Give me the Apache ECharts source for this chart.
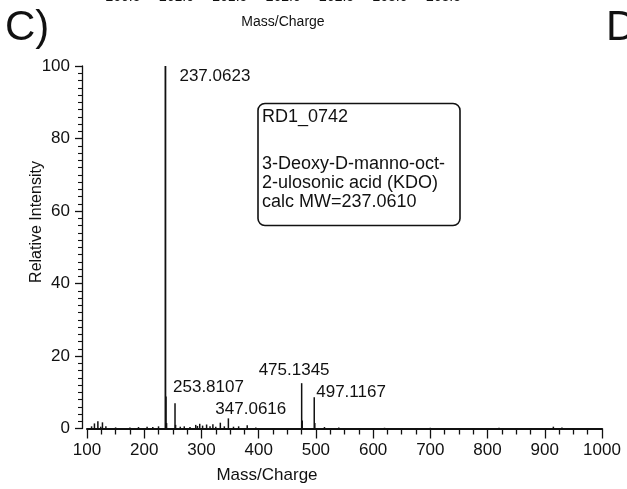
<!DOCTYPE html>
<html>
<head>
<meta charset="utf-8">
<script src="https://cdn.jsdelivr.net/npm/echarts@6/dist/echarts.min.js"></script>
<style>
  html, body { margin: 0; padding: 0; background: #fff; }
  #chart { width: 627px; height: 489px; }
</style>
</head>
<body>
<div id="chart"></div>
<script>
// Mass spectrum of KDO (RD1_0742): centroid peaks, m/z vs relative intensity
const peakMz = [
  108, 113, 119, 124, 127, 133, 150, 175, 190, 205, 215, 225,
  237.0623, 238.065, 239.07, 253.8107, 254.81,
  263, 270, 280, 290, 293, 297, 302, 309, 315, 320, 325, 333, 340,
  347.0616, 356, 365, 380, 395,
  475.1345, 476.137, 497.1167, 498.12,
  515, 540, 620, 700, 820, 915, 930
];
const peakIntensity = [
  0.6, 1.4, 2.0, 0.5, 1.7, 0.6, 0.3, 0.3, 0.4, 0.5, 0.4, 0.6,
  100, 8.8, 1.5, 7.0, 1.0,
  0.5, 0.6, 0.4, 1.0, 0.7, 1.3, 0.8, 1.1, 0.6, 1.2, 0.5, 1.6, 0.6,
  2.8, 0.5, 0.6, 0.9, 0.3,
  12.5, 2.2, 8.6, 1.5,
  0.4, 0.3, 0.2, 0.2, 0.2, 0.5, 0.3
];
// peaks that carry an m/z annotation
const labelledMz = [237.0623, 253.8107, 347.0616, 475.1345, 497.1167];

const xTickValues = [100, 200, 300, 400, 500, 600, 700, 800, 900, 1000];
const yTickValues = [0, 20, 40, 60, 80, 100];

// header of the panel above (clipped at the top edge)
const upperTickLabels = ['260.5', '261.0', '261.5', '262.0', '262.5', '263.0', '263.5'];

const boxTitle = 'RD1_0742';
const boxLines = ['3-Deoxy-D-manno-oct-', '2-ulosonic acid (KDO)', 'calc MW=237.0610'];

// label placement relative to the top of each annotated peak [dx, dy, align]
const labelPlacement = {
  '237.0623': [14, 10, 'left'],
  '253.8107': [-2, -16, 'left'],
  '347.0616': [-13, -9, 'left'],
  '475.1345': [-43, -13, 'left'],
  '497.1167': [2, -5, 'left']
};

const FONT = '"Liberation Sans", Arial, Helvetica, sans-serif';
const INK = '#111';

const chart = echarts.init(document.getElementById('chart'), null, { renderer: 'canvas' });

const data = peakMz.map((m, i) => [m, peakIntensity[i]]);

const upperGraphics = upperTickLabels.map((t, i) => ({
  type: 'text',
  x: 123 + i * 53.4,
  y: -3,
  style: { text: t, font: '14px ' + FONT, fill: INK, align: 'center', verticalAlign: 'middle' }
}));

chart.setOption({
  animation: false,
  backgroundColor: '#fff',
  grid: { left: 87, right: 25, top: 66, bottom: 60.5, containLabel: false },
  xAxis: {
    type: 'value',
    min: 100,
    max: 1000,
    interval: 100,
    axisLine: { show: true, onZero: false, lineStyle: { color: INK, width: 2 } },
    axisTick: { show: true, length: 10, lineStyle: { color: INK, width: 1.3 } },
    minorTick: { show: true, splitNumber: 4, length: 6, lineStyle: { color: INK, width: 1.3 } },
    axisLabel: {
      margin: 13, fontSize: 17, fontFamily: FONT, color: INK,
      customValues: xTickValues,
      formatter: v => String(v)
    },
    splitLine: { show: false }
  },
  yAxis: {
    type: 'value',
    min: 0,
    max: 100,
    interval: 20,
    offset: 5,
    axisLine: { show: true, lineStyle: { color: INK, width: 1.3 } },
    axisTick: { show: true, length: 7, lineStyle: { color: INK, width: 1.3 } },
    minorTick: { show: true, splitNumber: 10, length: 4, lineStyle: { color: INK, width: 1.1 } },
    axisLabel: {
      margin: 12, fontSize: 17, fontFamily: FONT, color: INK,
      customValues: yTickValues,
      formatter: v => String(v)
    },
    splitLine: { show: false }
  },
  series: [{
    type: 'custom',
    coordinateSystem: 'cartesian2d',
    data: data,
    encode: { x: 0, y: 1 },
    clip: false,
    renderItem: function (params, api) {
      const mz = api.value(0);
      const inten = api.value(1);
      const base = api.coord([mz, 0]);
      const top = api.coord([mz, inten]);
      const children = [{
        type: 'line',
        shape: { x1: base[0], y1: base[1], x2: top[0], y2: top[1] },
        style: { stroke: INK, lineWidth: inten > 50 ? 1.8 : 1.5 }
      }];
      if (labelledMz.indexOf(mz) >= 0) {
        const p = labelPlacement[mz.toFixed(4)];
        children.push({
          type: 'text',
          x: top[0] + p[0],
          y: top[1] + p[1],
          style: {
            text: mz.toFixed(4),
            font: '17px ' + FONT,
            fill: INK,
            align: p[2],
            verticalAlign: 'middle'
          }
        });
      }
      return { type: 'group', children: children };
    }
  }],
  graphic: [
    {
      type: 'text', x: 5, y: 28,
      style: { text: 'C)', font: '42px ' + FONT, fill: INK, align: 'left', verticalAlign: 'middle' }
    },
    {
      type: 'text', x: 606, y: 28,
      style: { text: 'D', font: '42px ' + FONT, fill: INK, align: 'left', verticalAlign: 'middle' }
    },
    {
      type: 'text', x: 283, y: 22.5,
      style: { text: 'Mass/Charge', font: '14px ' + FONT, fill: INK, align: 'center', verticalAlign: 'middle' }
    },
    {
      type: 'text', x: 267, y: 475,
      style: { text: 'Mass/Charge', font: '17px ' + FONT, fill: INK, align: 'center', verticalAlign: 'middle' }
    },
    {
      type: 'text', x: 37, y: 222, rotation: Math.PI / 2,
      style: { text: 'Relative Intensity', font: '16px ' + FONT, fill: INK, align: 'center', verticalAlign: 'middle' }
    },
    {
      type: 'rect',
      shape: { x: 258, y: 103.5, width: 202, height: 122, r: 7 },
      style: { fill: '#fff', stroke: INK, lineWidth: 1.6 }
    },
    {
      type: 'text', x: 262, y: 117.5,
      style: { text: boxTitle, font: '18px ' + FONT, fill: INK, align: 'left', verticalAlign: 'middle' }
    },
    {
      type: 'text', x: 262, y: 164,
      style: { text: boxLines[0], font: '18px ' + FONT, fill: INK, align: 'left', verticalAlign: 'middle' }
    },
    {
      type: 'text', x: 262, y: 183,
      style: { text: boxLines[1], font: '18px ' + FONT, fill: INK, align: 'left', verticalAlign: 'middle' }
    },
    {
      type: 'text', x: 262, y: 202,
      style: { text: boxLines[2], font: '18px ' + FONT, fill: INK, align: 'left', verticalAlign: 'middle' }
    }
  ].concat(upperGraphics)
});
</script>
</body>
</html>
